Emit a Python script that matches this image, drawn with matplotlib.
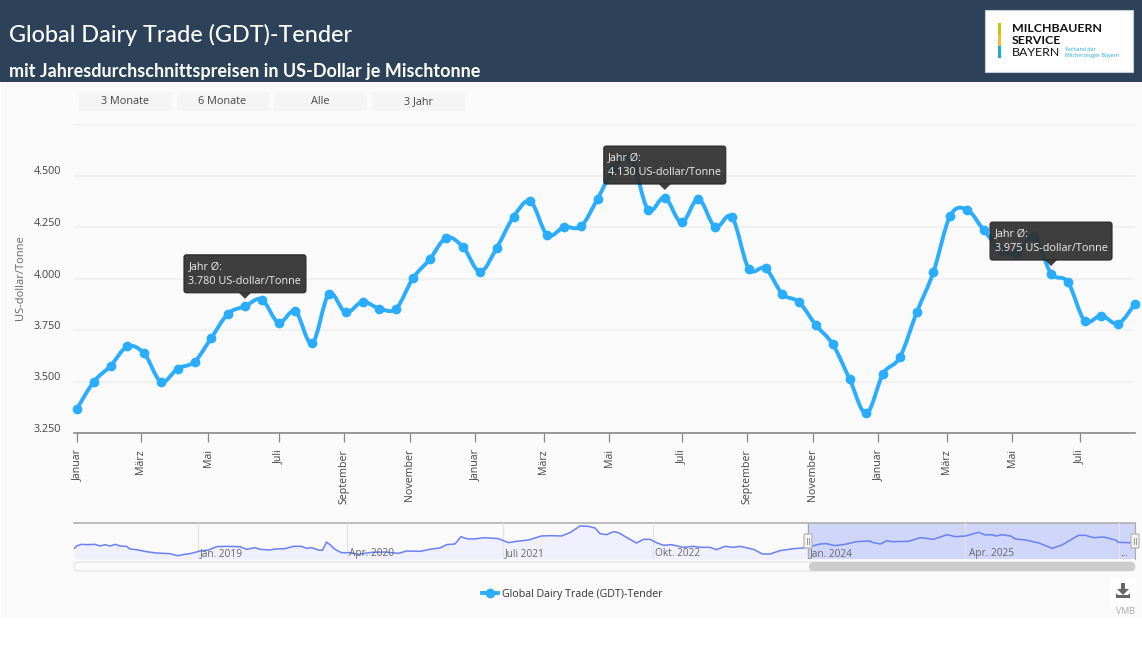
import numpy as np
import matplotlib
matplotlib.use('Agg')
import matplotlib.pyplot as plt
from matplotlib.patches import Rectangle, FancyBboxPatch, Polygon, PathPatch
from matplotlib.path import Path
from matplotlib.transforms import ScaledTranslation

plt.rcParams['font.family'] = ['Open Sans', 'DejaVu Sans']

# main chart: one value per tender
prices = [3368, 3499, 3576, 3670, 3636, 3499, 3563, 3596, 3712, 3830, 3865, 3898, 3786, 3841, 3685, 3925,
          3835, 3887, 3854, 3854, 4001, 4093, 4198, 4151, 4033, 4150, 4300, 4374, 4211, 4250, 4253, 4387,
          4540, 4586, 4334, 4393, 4272, 4386, 4250, 4298, 4048, 4049, 3925, 3885, 3773, 3681, 3513, 3345,
          3538, 3618, 3835, 4032, 4305, 4334, 4234, 4140, 4124, 4204, 4024, 3983, 3796, 3820, 3781, 3877]
month_pos = [0, 3.8, 7.8, 12, 15.9, 19.8, 23.7, 27.8, 31.7, 36, 39.9, 43.8, 47.7, 51.8, 55.7, 59.7]
month_labels = ['Januar', 'März', 'Mai', 'Juli', 'September', 'November', 'Januar', 'März', 'Mai', 'Juli',
                'September', 'November', 'Januar', 'März', 'Mai', 'Juli']
y_ticks = [3250, 3500, 3750, 4000, 4250, 4500, 4750]
y_labels = ['3.250', '3.500', '3.750', '4.000', '4.250', '4.500', '']

# navigator (overview) series
nav_pos = [0.0, 0.5, 1.5, 2.5, 4.2, 5.2, 6.2, 7.2, 8.3, 9.2, 10.5, 11.2, 12.5, 14.5, 16.5, 19.2, 20.7, 22.2, 23.5,
           25.2, 26.9, 28.5, 30.5, 33.2, 34.5, 36.2, 37.2, 39.2, 40.2, 42.2, 43.9, 45.5, 46.5, 47.5, 48.9, 49.7,
           50.5, 51.5, 52.2, 53.5, 55.2, 56.9, 59.5, 62.2, 64.9, 66.5, 69.2, 71.5, 73.2, 74.5, 76.2, 77.4, 78.5,
           79.9, 82.2, 84.9, 86.9, 88.5, 90.9, 93.5, 95.5, 97.5, 99.2, 101.2, 102.9, 104.2, 105.2, 106.5, 107.9,
           108.9, 110.5, 112.5, 113.9, 115.2, 116.5, 117.9, 119.5, 121.9, 123.9, 125.2, 127.2, 128.5, 130.2,
           131.9, 133.2, 135.9, 137.7, 139.2, 141.2, 143.9, 146.5, 149.2, 150.5, 152.2, 154.2, 156.5, 159.2,
           159.6, 161.3, 162.6, 163.6, 166.9, 169.3, 171.9, 174.6, 176.3, 178.3, 180.9, 182.3, 183.6, 184.4,
           185.6, 187.3, 188.3, 190.3, 193.0, 195.6, 197.6, 200.9, 202.3, 203.9, 205.9, 208.3, 208.9, 211.3]
nav_values = [3230, 3390, 3490, 3470, 3490, 3390, 3470, 3390, 3490, 3390, 3370, 3210, 3170, 3050, 2970, 2930, 2810,
              2890, 2950, 3090, 3150, 3350, 3370, 3350, 3190, 3290, 3190, 3150, 3210, 3230, 3370, 3370, 3250, 3290,
              3150, 3130, 3630, 3390, 3190, 2990, 2990, 2890, 3010, 3030, 2950, 3090, 3070, 3210, 3270, 3470, 3510,
              3950, 3830, 3810, 3890, 3830, 3590, 3670, 3750, 3990, 4010, 3990, 4190, 4590, 4570, 4470, 4130, 4070,
              4250, 4190, 3910, 3570, 3790, 3790, 3590, 3430, 3470, 3310, 3370, 3310, 3310, 3170, 3370, 3310, 3370,
              3190, 2910, 2910, 3110, 3230, 3290, 3510, 3530, 3410, 3490, 3650, 3690, 3610, 3510, 3710, 3650, 3670,
              3890, 3790, 4070, 3950, 3990, 4210, 4050, 4070, 3990, 4070, 3990, 3810, 3750, 3570, 3250, 3450, 4030,
              4030, 3890, 3930, 3750, 3610, 3590]
nav_labels = ['Jan. 2019', 'Apr. 2020', 'Juli 2021', 'Okt. 2022', 'Jan. 2024', 'Apr. 2025', '...']
nav_label_pos = [24.8, 54.6, 85.8, 115.8, 146.8, 178.6, 208.8]
nav_grid_pos = [24.8, 54.6, 85.8, 115.8, 146.8, 178.2, 209]
nav_sel = (146.8, 212.2)

# tooltips: text, index of the tender they point to
tips = [('3.780 US-dollar/Tonne', 10), ('4.130 US-dollar/Tonne', 35), ('3.975 US-dollar/Tonne', 58)]
buttons = ['3 Monate', '6 Monate', 'Alle', '3 Jahr']

W, H = 1142, 671
BLUE = '#2aacff'
fig = plt.figure(figsize=(W / 100, H / 100), dpi=100, facecolor='white')


def px_axes(left, top, right, bottom, **kw):
    return fig.add_axes([left / W, 1 - bottom / H, (right - left) / W, (bottom - top) / H], **kw)


# page furniture, in pixel coordinates
bg = fig.add_axes([0, 0, 1, 1], zorder=0)
bg.set_xlim(0, W)
bg.set_ylim(H, 0)
bg.axis('off')
bg.add_patch(Rectangle((1, 82), W, 536, fc='#fafafa', ec='none'))
bg.add_patch(Rectangle((0, 0), W, 82, fc='#2d4259', ec='none'))
bg.text(9, 35, 'Global Dairy Trade (GDT)-Tender', color='white', fontsize=16.8, family='Lato', weight='medium', va='center')
bg.text(9, 71, 'mit Jahresdurchschnittspreisen in US-Dollar je Mischtonne', color='white', fontsize=12.95, family='Lato',
        weight='bold', va='center')

# logo
bg.add_patch(Rectangle((985, 10), 148, 62, fc='white', ec='#c5ccd4', lw=0.8))
for top_px, bottom_px, col in [(23, 35, '#c2c70a'), (35, 46, '#f9b92f'), (46, 58, '#1ea7df')]:
    bg.add_patch(Rectangle((998, top_px), 3, bottom_px - top_px, fc=col, ec='none'))
bg.text(1012, 28, 'MILCHBAUERN', fontsize=8.9, weight='bold', color='#111111', va='center', family='Lato')
bg.text(1012, 40.5, 'SERVICE', fontsize=8.9, weight='bold', color='#111111', va='center', family='Lato')
bg.text(1012, 53, 'BAYERN', fontsize=8.9, color='#111111', va='center', family='Lato')
bg.text(1065, 49.5, 'Verband der', fontsize=3.8, color='#1ea7df', va='center')
bg.text(1065, 56, 'Milcherzeuger Bayern', fontsize=3.8, color='#1ea7df', va='center')

# range buttons
for (x0, x1), lab in zip([(79, 172), (177, 269), (274, 367), (372, 465)], buttons):
    bg.add_patch(Rectangle((x0, 92), x1 - x0, 19, fc='#f5f5f5', ec='none'))
    bg.text((x0 + x1) / 2 - 0.5, 101.5, lab, fontsize=7.8, color='#444444', ha='center', va='center')

bg.text(21, 278, 'US-dollar/Tonne', rotation=90, fontsize=8, color='#666666', ha='center', va='center')

# main chart
ax = px_axes(74, 124, 1135, 433, zorder=1)
ax.patch.set_alpha(0)
x = np.arange(len(prices), dtype=float)
y = np.array(prices, dtype=float)

# smooth line through the tender values, drawn as bezier segments
pts = np.column_stack([x, y])
prev_pts = np.vstack([pts[0], pts[:-1]])
next_pts = np.vstack([pts[1:], pts[-1]])
tang = (next_pts - prev_pts) * 0.17
verts = [pts[0]]
codes = [Path.MOVETO]
for i in range(len(pts) - 1):
    verts += [pts[i] + tang[i], pts[i + 1] - tang[i + 1], pts[i + 1]]
    codes += [Path.CURVE4] * 3
ax.add_patch(PathPatch(Path(verts, codes), fill=False, ec=BLUE, lw=2.8, capstyle='round', joinstyle='round',
                       clip_on=False, zorder=3))
ax.plot(x, y, ls='none', marker='o', ms=6, color=BLUE, clip_on=False, zorder=4)

ax.set_xlim(-0.18, 63)
ax.set_ylim(3250, 4750)
ax.set_yticks(y_ticks, y_labels, fontsize=7.8, color='#444444', va='bottom')
ax.set_xticks(month_pos, month_labels, rotation=90, fontsize=7.7, color='#444444', va='top', ha='center')
ax.tick_params(axis='y', length=0, pad=9.5)
ax.tick_params(axis='x', length=6.5, width=0.9, color='#888888', pad=5)
shift_down = ScaledTranslation(0, -2 / 100, fig.dpi_scale_trans)
for lab in ax.get_yticklabels():
    lab.set_transform(lab.get_transform() + shift_down)
ax.grid(axis='y', color='#f1f1f1', lw=1.5)
ax.set_axisbelow(True)
for side in ['top', 'right', 'left']:
    ax.spines[side].set_visible(False)
ax.spines['bottom'].set_color('#888888')
ax.spines['bottom'].set_linewidth(1.2)

# navigator
nav = px_axes(74, 523, 1135, 559, zorder=1)
nav.set_xlim(0, 212.2)
nav.set_ylim(2610, 4770)
nav.patch.set_alpha(0)
nav.fill_between(nav_pos, nav_values, 2610, color='#eff0fb', lw=0, zorder=1)
nav.axvspan(nav_sel[0], nav_sel[1], color='#d0d6fa', lw=0, zorder=2)
for g in nav_grid_pos:
    nav.axvline(g, color='#e4e4e8', lw=0.9, zorder=3)
nav.plot(nav_pos, nav_values, color='#6a80f5', lw=1.1, zorder=4)
for p, lab in zip(nav_label_pos, nav_labels):
    nav.text(p + 0.4, 2960, lab, fontsize=7.3, color='#666666', va='center', zorder=5)
nav.set_xticks([])
nav.set_yticks([])
for side in ['left', 'bottom']:
    nav.spines[side].set_visible(False)
nav.spines['right'].set_color('#aaaaaa')
nav.spines['top'].set_color('#aaaaaa')
nav.spines['top'].set_linewidth(1.1)
nav.plot([nav_sel[0], nav_sel[0]], [2610, 4770], color='#aaaaaa', lw=1, zorder=4)

# legend
leg_handle, = ax.plot([], [], color=BLUE, lw=2.8, marker='o', ms=6, label='Global Dairy Trade (GDT)-Tender')
ax.legend(handles=[leg_handle], loc='center', bbox_to_anchor=(572 / W, 1 - 594 / H), bbox_transform=fig.transFigure,
          frameon=False, fontsize=7.7, handlelength=1.5, handletextpad=0.4, labelcolor='#333333')

# top layer: tooltips, navigator handles, scrollbar, download button
top = fig.add_axes([0, 0, 1, 1], zorder=3)
top.set_xlim(0, W)
top.set_ylim(H, 0)
top.axis('off')
top.patch.set_alpha(0)

fig.canvas.draw()
for text, idx in tips:
    # the tooltip hangs above its point
    ax_px = ax.transData.transform((x[idx], y[idx]))
    tx, ty = ax_px[0], H - ax_px[1]
    x0, x1 = tx - 61, tx + 61
    y0, y1 = ty - 51.5, ty - 13.5
    top.add_patch(FancyBboxPatch((x0, y0), x1 - x0, y1 - y0, boxstyle='round,pad=0,rounding_size=2.5', fc='#2e2e2e',
                                 ec='#222222', lw=0.8, alpha=0.92))
    top.add_patch(Polygon([(tx - 6, y1), (tx + 6, y1), (tx, y1 + 6)], fc='#2e2e2e', ec='none', alpha=0.92))
    top.text(x0 + 4.5, y0 + 13, 'Jahr Ø:', color='#eeeeee', fontsize=7.8, va='center')
    top.text(x0 + 4.5, y0 + 26.5, text, color='#eeeeee', fontsize=7.8, va='center')

for hx in (808, 1135):
    top.add_patch(FancyBboxPatch((hx - 4, 534), 8, 14, boxstyle='round,pad=0,rounding_size=1', fc='#f2f2f2',
                                 ec='#b5b5b5', lw=0.9))
    top.plot([hx - 1.2, hx - 1.2], [538, 544], color='#999999', lw=0.7)
    top.plot([hx + 1.2, hx + 1.2], [538, 544], color='#999999', lw=0.7)

top.add_patch(FancyBboxPatch((74, 562), 1061, 9, boxstyle='round,pad=0,rounding_size=4.5', fc='#fafafa', ec='#e6e6e6', lw=1))
top.add_patch(FancyBboxPatch((809, 562), 326, 9, boxstyle='round,pad=0,rounding_size=4.5', fc='#cccccc', ec='none'))

top.add_patch(Rectangle((1110, 578), 26, 28, fc='white', ec='none'))
top.add_patch(Polygon([(1121, 583), (1125, 583), (1125, 589), (1129, 589), (1123, 595), (1117, 589), (1121, 589)],
                      fc='#666666', ec='none'))
top.add_patch(Polygon([(1116, 593), (1118, 595), (1128, 595), (1130, 593), (1130, 598), (1116, 598)], fc='#666666', ec='none'))
top.text(1135, 611, 'VMB', fontsize=6.4, color='#aaaaaa', ha='right', va='center')

fig.savefig('out.png', dpi=100, facecolor='white')
